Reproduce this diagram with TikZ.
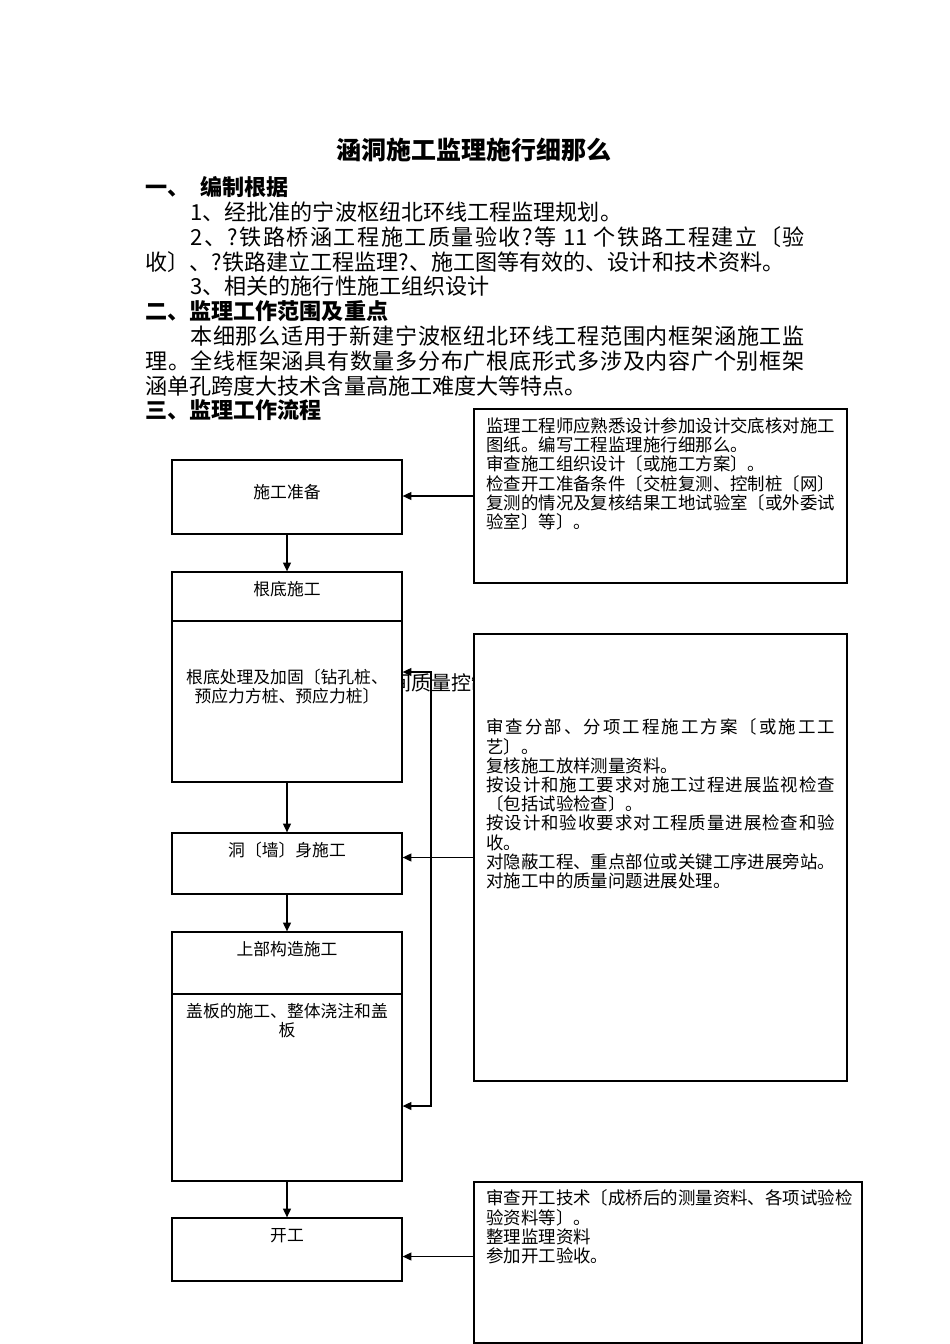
\documentclass[tikz,border=0pt]{standalone}
\usepackage{fontspec}
\setmainfont{Noto Sans CJK SC}
\usetikzlibrary{arrows.meta, positioning, calc, fit}
% stretch one line to a given width, glue after every character
\def\sprend{sprend}
\def\spr#1{\ifx\sprend#1\else{#1}\hfil\expandafter\spr\fi}
\newcommand{\jline}[2]{\makebox[#1][s]{\spr#2\sprend\unskip}}

\begin{document}
\begin{tikzpicture}[x=0.625pt, y=-0.625pt,
    flowbox/.style={draw, line width=0.8pt, inner sep=0pt},
    notebox/.style={draw, line width=0.8pt, inner sep=0pt},
    boxtext/.style={font=\fontsize{10.5pt}{11.9pt}\selectfont, align=center, inner sep=0pt},
    notetext/.style={font=\fontsize{10.9pt}{12pt}\selectfont, align=left, inner sep=0pt, anchor=west},
    bodytext/.style={font=\fontsize{13.8pt}{15pt}\selectfont, inner sep=0pt, anchor=west},
    headtext/.style={inner sep=0pt, anchor=west, font=\fontsize{13.8pt}{15pt}\selectfont\bfseries},
    flowarrow/.style={-{Triangle[length=5.5pt, width=5pt]}, line width=0.8pt}]
  \useasboundingbox (0,0) rectangle (950,1344);

  % heading and text
  \node[font=\fontsize{15.6pt}{17pt}\selectfont\bfseries, inner sep=0pt] (title) at (474,150) {涵洞施工监理施行细那么};
  \node[headtext] (h1) at (145,187) {一、\hspace{7pt}编制根据};
  \node[bodytext] (t1) at (190,212) {1、经批准的宁波枢纽北环线工程监理规划。};
  \node[bodytext] (t2) at (190,237) {\jline{384pt}{2、?铁路桥涵工程施工质量验收?等{ 11 }个铁路工程建立〔验}};
  \node[bodytext] (t3) at (145,262) {收〕、?铁路建立工程监理?、施工图等有效的、设计和技术资料。};
  \node[bodytext] (t4) at (190,286) {3、相关的施行性施工组织设计};
  \node[headtext] (h2) at (145,311) {二、监理工作范围及重点};
  \node[bodytext] (t5) at (190,336) {\jline{384pt}{本细那么适用于新建宁波枢纽北环线工程范围内框架涵施工监}};
  \node[bodytext] (t6) at (145,361) {\jline{412pt}{理。全线框架涵具有数量多分布广根底形式多涉及内容广个别框架}};
  \node[bodytext] (t7) at (145,386) {涵单孔跨度大技术含量高施工难度大等特点。};
  \node[headtext] (h3) at (145,410) {三、监理工作流程};

  % half hidden label between the columns
  \begin{scope}
    \clip (402,655) rectangle (474,715);
    \node[font=\fontsize{12.5pt}{14pt}\selectfont, anchor=west, inner sep=0pt] (qlabel) at (391,683) {间质量控制};
  \end{scope}

  % flow boxes
  \node[flowbox, fit={(172,460) (402,534)}] (prep) {};
  \node[flowbox, fit={(172,572) (402,782)}] (base) {};
  \node[flowbox, fit={(172,833) (402,894)}] (wall) {};
  \node[flowbox, fit={(172,932) (402,1181)}] (super) {};
  \node[flowbox, fit={(172,1218) (402,1281)}] (open) {};
  \draw[line width=0.8pt] (172,621) -- (402,621);
  \draw[line width=0.8pt] (172,994) -- (402,994);

  \node[boxtext] (prept) at (287,492) {施工准备};
  \node[boxtext] (baset) at (287,589) {根底施工};
  \node[boxtext] (basetx) at (287,686.5) {根底处理及加固〔钻孔桩、\\预应力方桩、预应力桩〕};
  \node[boxtext] (wallt) at (287,850) {洞〔墙〕身施工};
  \node[boxtext] (supert) at (287,949) {上部构造施工};
  \node[boxtext] (supertx) at (287,1020.5) {盖板的施工、整体浇注和盖\\板};
  \node[boxtext] (opent) at (287,1236) {开工};

  % supervision notes
  \node[notebox, fit={(474,409) (847,583)}] (note1) {};
  \node[notebox, fit={(474,634) (847,1081)}] (note2) {};
  \node[notebox, fit={(474,1182) (862,1343)}] (note3) {};

  \node[notetext] (note1t) at (486,474) {监理工程师应熟悉设计参加设计交底核对施工\\
    图纸。编写工程监理施行细那么。\\
    审查施工组织设计〔或施工方案〕。\\
    检查开工准备条件〔交桩复测、控制桩〔网〕\\
    复测的情况及复核结果工地试验室〔或外委试\\
    验室〕等〕。};
  \node[notetext] (note2t) at (486,804) {\jline{218pt}{审查分部、分项工程施工方案〔或施工工}\\
    艺〕。\\
    复核施工放样测量资料。\\
    \jline{218pt}{按设计和施工要求对施工过程进展监视检查}\\
    〔包括试验检查〕。\\
    \jline{218pt}{按设计和验收要求对工程质量进展检查和验}\\
    收。\\
    对隐蔽工程、重点部位或关键工序进展旁站。\\
    对施工中的质量问题进展处理。};
  \node[notetext] (note3t) at (486,1227) {审查开工技术〔成桥后的测量资料、各项试验检\\
    验资料等〕。\\
    整理监理资料\\
    参加开工验收。};

  % connectors
  \draw[flowarrow] (prep) -- (base);
  \draw[flowarrow] (base) -- (wall);
  \draw[flowarrow] (wall) -- (super);
  \draw[flowarrow] (super) -- (open);
  \draw[flowarrow] (note1.west) -- (note1.west -| prep.east);
  \draw[flowarrow] (note2.west) -- (note2.west -| wall.east);
  \coordinate (n3in) at ($(note3.west)+(0,-6)$);
  \draw[flowarrow] (n3in) -- (n3in -| open.east);
  \coordinate (qtop) at (431,672);
  \coordinate (qbot) at (431,1106);
  \draw[{Triangle[length=5.5pt, width=5pt]}-{Triangle[length=5.5pt, width=5pt]}, line width=0.8pt]
    (qtop -| base.east) -- (qtop) -- (qbot) -- (qbot -| super.east);
\end{tikzpicture}
\end{document}
